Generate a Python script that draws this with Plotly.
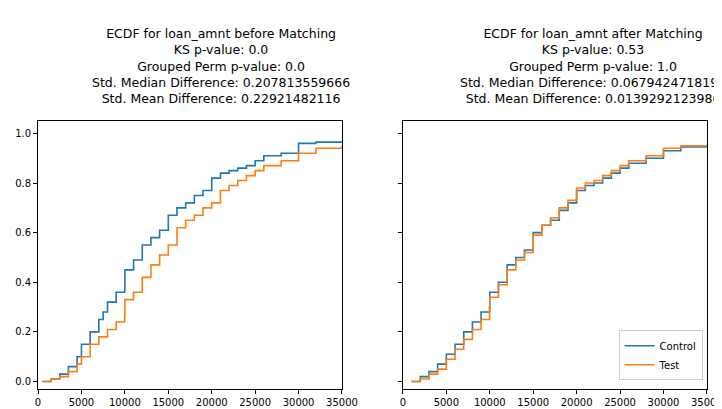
import plotly.graph_objects as go
from plotly.subplots import make_subplots

# before matching
ctrl_b_x = [500, 1500, 2500, 3500, 4500, 5000, 6000, 7000, 7500, 8000, 9000, 9975, 10000, 11000, 12000, 13000, 14000, 15000, 16000, 17000, 18000, 19000, 20000, 21000, 22000, 23000, 24000, 25000, 26000, 28000, 30000, 32000, 35000]
ctrl_b_y = [0.0, 0.01, 0.03, 0.06, 0.1, 0.15, 0.2, 0.25, 0.28, 0.32, 0.36, 0.37, 0.45, 0.49, 0.55, 0.58, 0.61, 0.67, 0.7, 0.72, 0.75, 0.77, 0.82, 0.84, 0.85, 0.86, 0.87, 0.89, 0.91, 0.92, 0.96, 0.965, 0.97]
test_b_x = [500, 1500, 2500, 3500, 4500, 5000, 6000, 7000, 8000, 9000, 9975, 10000, 11000, 12000, 13000, 14000, 15000, 16000, 17000, 18000, 19000, 20000, 21000, 22000, 23000, 24000, 25000, 26000, 28000, 30000, 32000, 35000]
test_b_y = [0.0, 0.01, 0.02, 0.04, 0.07, 0.1, 0.15, 0.18, 0.21, 0.24, 0.26, 0.33, 0.36, 0.42, 0.47, 0.51, 0.55, 0.62, 0.65, 0.67, 0.7, 0.72, 0.77, 0.79, 0.81, 0.83, 0.85, 0.87, 0.89, 0.92, 0.94, 0.95]

# after matching
ctrl_a_x = [1000, 2000, 3000, 4000, 5000, 6000, 7000, 8000, 9000, 9975, 10000, 11000, 12000, 13000, 14000, 15000, 16000, 17000, 18000, 19000, 20000, 21000, 22000, 23000, 24000, 25000, 26000, 28000, 30000, 32000, 35000]
ctrl_a_y = [0.0, 0.02, 0.04, 0.07, 0.11, 0.15, 0.2, 0.24, 0.28, 0.3, 0.36, 0.4, 0.47, 0.5, 0.53, 0.6, 0.63, 0.65, 0.69, 0.72, 0.77, 0.79, 0.8, 0.82, 0.84, 0.86, 0.88, 0.9, 0.93, 0.945, 0.95]
test_a_x = [1000, 2000, 3000, 4000, 5000, 6000, 7000, 8000, 9000, 9975, 10000, 11000, 12000, 13000, 14000, 15000, 16000, 17000, 18000, 19000, 20000, 21000, 22000, 23000, 24000, 25000, 26000, 28000, 30000, 32000, 35000]
test_a_y = [0.0, 0.01, 0.03, 0.05, 0.09, 0.13, 0.17, 0.21, 0.25, 0.28, 0.34, 0.39, 0.45, 0.49, 0.52, 0.59, 0.63, 0.66, 0.7, 0.73, 0.78, 0.8, 0.81, 0.83, 0.85, 0.87, 0.89, 0.91, 0.94, 0.95, 0.955]

titles = [
    "ECDF for loan_amnt before Matching<br>KS p-value: 0.0<br>Grouped Perm p-value: 0.0<br>Std. Median Difference: 0.207813559666<br>Std. Mean Difference: 0.22921482116",
    "ECDF for loan_amnt after Matching<br>KS p-value: 0.53<br>Grouped Perm p-value: 1.0<br>Std. Median Difference: 0.0679424718199<br>Std. Mean Difference: 0.0139292123986",
]
BLUE, ORANGE = "#1f77b4", "#ff7f0e"

fig = make_subplots(rows=1, cols=2, shared_yaxes=True)
for col, (cx, cy, tx, ty) in enumerate([(ctrl_b_x, ctrl_b_y, test_b_x, test_b_y), (ctrl_a_x, ctrl_a_y, test_a_x, test_a_y)], start=1):
    fig.add_trace(go.Scatter(x=cx, y=cy, mode="lines", line_shape="hv", line=dict(color=BLUE, width=1.6), name="Control", showlegend=(col == 2)), 1, col)
    fig.add_trace(go.Scatter(x=tx, y=ty, mode="lines", line_shape="hv", line=dict(color=ORANGE, width=1.6), name="Test", showlegend=(col == 2)), 1, col)

ax = dict(showgrid=False, zeroline=False, showline=True, mirror=True, linecolor="black", linewidth=1, ticks="outside", ticklen=4, tickcolor="black", automargin=False)
fig.update_xaxes(range=[0, 35000], dtick=5000, tickformat="d", **ax)
fig.update_yaxes(range=[-0.03, 1.05], dtick=0.2, tickformat=".1f", domain=[0.0685, 0.7237], **ax)
fig.update_xaxes(domain=[0.0416, 0.4626], row=1, col=1)
fig.update_xaxes(domain=[0.547, 0.968], row=1, col=2)
fig.update_yaxes(showticklabels=False, row=1, col=2)

for i, t in enumerate(titles):
    fig.add_annotation(text=t, x=[0.295, 0.81][i], y=0.755, xref="paper", yref="paper", xanchor="center", yanchor="bottom", showarrow=False, font=dict(size=12.5, color="black"))

fig.update_layout(
    width=722, height=409, margin=dict(l=0, r=0, t=0, b=0),
    plot_bgcolor="white", paper_bgcolor="white",
    font=dict(family="DejaVu Sans", size=10, color="black"),
    legend=dict(x=0.962, y=0.09, xanchor="right", yanchor="bottom", bordercolor="#ccc", borderwidth=1, bgcolor="white"),
)
fig.write_html("out.html")
